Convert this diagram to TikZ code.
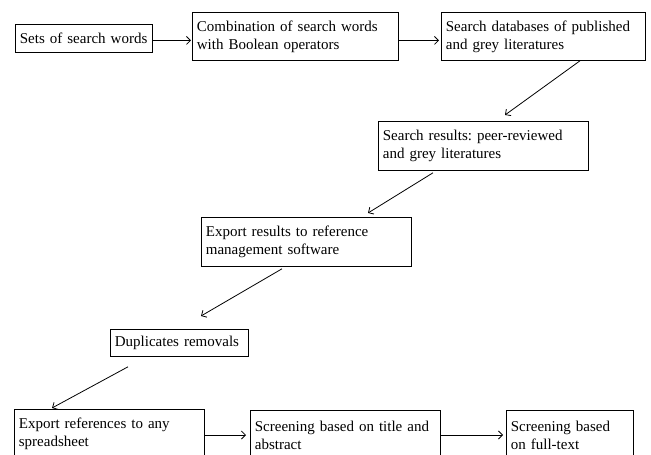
\documentclass[tikz,border=0pt]{standalone}
\usepackage{fontspec}
\setmainfont{Liberation Serif}
\usetikzlibrary{arrows.meta}
\frenchspacing
\begin{document}
\begin{tikzpicture}[x=1pt,y=-1pt,
  box/.style={draw, line width=0.8pt, anchor=north west, inner ysep=0pt, inner xsep=4.5pt,
    align=left, font=\fontsize{15}{18}\selectfont},
  arr/.style={line width=0.8pt, -{Straight Barb[length=4pt,width=8pt,line width=0.8pt]}}]
\useasboundingbox (0,0) rectangle (651,455);
\clip (0,0) rectangle (651,455);
\node[box, text width=128pt, minimum height=28pt] (b1) at (15,24) {Sets of search words};
\node[box, text width=197pt, minimum height=48pt] (b2) at (192,12) {Combination of search words\\with Boolean operators};
\node[box, text width=195pt, minimum height=48pt] (b3) at (441,12) {Search databases of published\\and grey literatures};
\node[box, text width=201pt, minimum height=49pt] (b4) at (378,121) {Search results: peer-reviewed\\and grey literatures};
\node[box, text width=201pt, minimum height=49pt] (b5) at (201,217) {Export results to reference\\management software};
\node[box, text width=129pt, minimum height=27pt] (b6) at (110,329) {Duplicates removals};
\node[box, text width=181pt, minimum height=49pt] (b7) at (14,409) {Export references to any\\spreadsheet};
\node[box, text width=181pt, minimum height=49pt] (b8) at (250,410) {Screening based on title and\\abstract};
\node[box, text width=118pt, minimum height=49pt] (b9) at (506,410) {Screening based\\on full-text};
\draw[arr] ([yshift=-2pt]b1.east) -- ([yshift=-4pt,xshift=-1pt]b2.west);
\draw[arr] ([yshift=-4pt]b2.east) -- ([yshift=-4pt,xshift=-2pt]b3.west);
\draw[arr] ([xshift=139pt]b3.south west) -- ([xshift=127pt,yshift=6pt]b4.north west);
\draw[arr] ([xshift=55pt,yshift=-2pt]b4.south west) -- ([xshift=167pt,yshift=4pt]b5.north west);
\draw[arr] ([xshift=81pt,yshift=-2pt]b5.south west) -- ([xshift=91pt,yshift=13pt]b6.north west);
\draw[arr] ([xshift=18pt,yshift=-10pt]b6.south west) -- ([xshift=38pt,yshift=1pt]b7.north west);
\draw[arr] ([yshift=-26pt]b7.north east) -- ([yshift=-25pt,xshift=-4pt]b8.north west);
\draw[arr] ([yshift=-25pt]b8.north east) -- ([yshift=-25pt,xshift=-3pt]b9.north west);
\end{tikzpicture}
\end{document}
